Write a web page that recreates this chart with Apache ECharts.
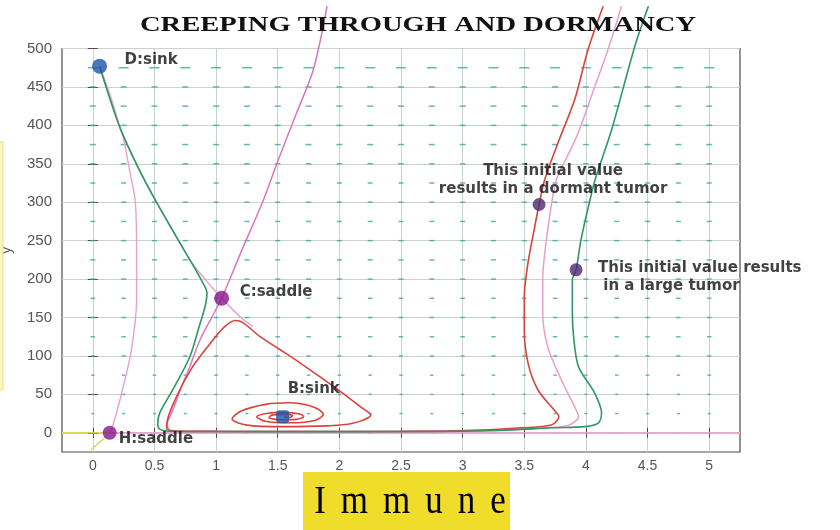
<!DOCTYPE html>
<html>
<head>
<meta charset="utf-8">
<script src="https://cdn.jsdelivr.net/npm/echarts@6/dist/echarts.min.js"></script>
<style>
  html, body { margin: 0; padding: 0; background: #ffffff; }
  #chart { width: 840px; height: 530px; }
</style>
</head>
<body>
<div id="chart"></div>
<script>
// Axis ticks
const xTicks = [0, 0.5, 1, 1.5, 2, 2.5, 3, 3.5, 4, 4.5, 5];
const yTicks = [0, 50, 100, 150, 200, 250, 300, 350, 400, 450, 500];

// Direction field lattice and arrow length per row (horizontal arrows)
const fieldCols = [0, 0.25, 0.5, 0.75, 1, 1.25, 1.5, 1.75, 2, 2.25, 2.5, 2.75, 3, 3.25, 3.5, 3.75, 4, 4.25, 4.5, 4.75, 5];
const fieldRows = [0, 25, 50, 75, 100, 125, 150, 175, 200, 225, 250, 275, 300, 325, 350, 375, 400, 425, 450, 475];
const fieldMagnitude = [2, 3, 3, 3.5, 4, 4.5, 4.5, 4.5, 5, 5, 5, 5, 5, 5, 5.5, 6, 6, 6, 6, 10];

// Trajectories (immune, tumour)
const greenPath = [[0.055,477],[0.218,398],[0.365,346],[0.52,299],[0.787,225],[0.893,195],[0.926,182],[0.91,164],[0.855,134],[0.787,99],[0.649,56],[0.543,26],[0.527,12],[0.54,5],[0.62,2],[1.0,1.6],[1.8,1.5],[2.6,1.6],[3.3,3],[3.72,6.5],[3.99,8],[4.1,12.6],[4.127,25.6],[4.07,52],[3.94,86],[3.9,125],[3.89,156],[3.89,199],[3.92,212],[3.96,251],[4.02,294],[4.074,329],[4.208,394],[4.397,503],[4.507,555]];

const redPath = [[4.14,555],[4.018,499],[3.91,434],[3.78,380],[3.665,329],[3.62,297],[3.58,264],[3.53,221],[3.5,177],[3.5,134],[3.53,91],[3.61,56],[3.74,30],[3.78,21],[3.72,10],[3.47,6.5],[3.07,3],[2.66,1.8],[2.0,1.7],[1.5,1.7],[1.0,1.8],[0.7,2.2],[0.6,5],[0.6,10],[0.667,43],[0.81,86],[0.976,121],[1.07,138],[1.154,146],[1.22,143],[1.357,125],[1.52,108],[1.68,91],[1.955,60],[2.17,34],[2.255,23],[2.1,12],[1.9,9],[1.55,8],[1.25,10],[1.13,18],[1.2,28],[1.4,37],[1.6,39],[1.8,33],[1.87,24],[1.8,16],[1.6,13],[1.4,15],[1.33,21],[1.42,25.5],[1.55,26.5],[1.68,24.5],[1.71,21],[1.65,17.5],[1.52,17],[1.43,19.5],[1.45,23],[1.55,24],[1.62,22.5],[1.6,20],[1.55,20.5]];

const pinkRightPath = [[4.289,555],[4.18,499],[4.06,445],[3.937,390],[3.85,360],[3.76,329],[3.69,264],[3.65,199],[3.65,156],[3.69,112],[3.8,69],[3.92,30],[3.94,21],[3.86,10],[3.64,6],[3.2,3.5],[2.5,2],[1.5,1.8],[0.8,2]];

const pinkSaddlePath = [[0.62,4],[0.6,10],[0.64,26],[0.72,60],[0.787,86],[0.87,121],[0.964,150],[1.045,175],[1.21,238],[1.384,303],[1.497,352],[1.65,415],[1.79,473],[1.9,555]];

const pinkSeparatrix = [[0.055,477],[0.218,398],[0.365,346],[0.52,299],[0.787,225],[0.92,198],[1.045,175],[1.195,151],[1.3,138]];

const pinkLeftPath = [[0.055,477],[0.15,435],[0.218,398],[0.245,386],[0.3,340],[0.345,300],[0.355,234],[0.355,173],[0.313,108],[0.247,60],[0.177,17],[0.137,0]];

const pinkAxisPath = [[0.137,0],[5.25,0]];
const yellowAxisPath = [[-0.25,0],[0.137,0]];
const yellowLowPath = [[0.12,-3],[0.05,-13],[-0.013,-22]];

// Equilibria and initial values
const pointCoords = [[0.055,477],[1.045,175],[0.137,0],[1.54,21],[3.62,297],[3.92,212]];
const pointNames = ['D:sink', 'C:saddle', 'H:saddle', 'B:sink',
  'This initial value\nresults in a dormant tumor',
  'This initial value results\n in a large tumor'];

const chartTitle = 'CREEPING THROUGH AND DORMANCY';
const xName = 'Immune';
const yName = 'y';

// ---- styling ----
const pointStyles = [
  { color: '#1d55a6', size: 15, offset: [25, -6], align: 'left' },
  { color: '#86168a', size: 15, offset: [18, -6], align: 'left' },
  { color: '#86168a', size: 14, offset: [9, 6], align: 'left' },
  { color: '#1d55a6', size: 13, offset: [5, -28], align: 'left', symbol: 'roundRect' },
  { color: '#4a2a72', size: 13, offset: [14, -24], align: 'center' },
  { color: '#4a2a72', size: 13, offset: [22, 7], align: 'left' }
];

const labelFont = { fontFamily: 'DejaVu Sans', fontWeight: 'bold', fontSize: 15, color: '#111111', lineHeight: 18 };

const fieldData = [];
fieldRows.forEach(function (y, r) {
  fieldCols.forEach(function (x) { fieldData.push([x, y, fieldMagnitude[r]]); });
});

function trajectory(name, data, color, width, z) {
  return {
    name: name, type: 'line', data: data, showSymbol: false, smooth: 0.3,
    clip: false, silent: true, z: z,
    lineStyle: { color: color, width: width }
  };
}

const chart = echarts.init(document.getElementById('chart'), null, { renderer: 'canvas' });

const axisCommon = {
  type: 'value', axisLine: { show: false },
  axisTick: { show: true, inside: true, length: 5, lineStyle: { color: '#4a4a4a', width: 1 } }
};

chart.setOption({
  animation: false,
  backgroundColor: '#ffffff',
  grid: {
    left: 62, right: 100, top: 48.5, bottom: 78,
    outerBoundsMode: 'none', containLabel: false,
    show: true, borderColor: '#4d4d4d', borderWidth: 1.2, backgroundColor: 'transparent'
  },
  xAxis: [
    Object.assign({}, axisCommon, {
      min: -0.25, max: 5.25, position: 'bottom',
      axisTick: Object.assign({}, axisCommon.axisTick, { customValues: xTicks }),
      axisLabel: { customValues: xTicks, color: '#555555', fontSize: 14, fontFamily: 'Liberation Sans', margin: 7 },
      splitLine: { show: true, lineStyle: { color: '#c9d2cc', width: 1 } }
    }),
    Object.assign({}, axisCommon, {
      min: -0.25, max: 5.25, position: 'top',
      axisTick: Object.assign({}, axisCommon.axisTick, { customValues: xTicks }),
      axisLabel: { show: false }, splitLine: { show: false }
    })
  ],
  yAxis: [
    Object.assign({}, axisCommon, {
      min: -25, max: 500, position: 'left',
      name: yName, nameLocation: 'middle', nameGap: 48, nameRotate: 90,
      nameTextStyle: { color: '#555555', fontSize: 14, fontFamily: 'Liberation Sans' },
      axisTick: Object.assign({}, axisCommon.axisTick, { customValues: yTicks }),
      axisLabel: { customValues: yTicks, color: '#555555', fontSize: 15, fontFamily: 'Liberation Sans', margin: 10 },
      splitLine: { show: true, lineStyle: { color: '#c9d2cc', width: 1 } }
    }),
    Object.assign({}, axisCommon, {
      min: -25, max: 500, position: 'right',
      axisTick: Object.assign({}, axisCommon.axisTick, { customValues: yTicks }),
      axisLabel: { show: false }, splitLine: { show: false }
    })
  ],
  graphic: [
    { type: 'text', x: 418, y: 26, scaleX: 1.36, z: 10,
      style: { text: chartTitle, font: 'bold 21px "Liberation Serif"', fill: '#111111', textAlign: 'center', textVerticalAlign: 'middle' } },
    { type: 'rect', shape: { x: 303, y: 472, width: 207, height: 60 }, z: 5,
      style: { fill: '#f0dc2a' } },
    { type: 'text', x: 410, y: 503, scaleY: 1.12, z: 6,
      style: {
        text: xName.split('').map(function (c) { return '{l|' + c + '}'; }).join(''),
        textAlign: 'center', textVerticalAlign: 'middle',
        rich: { l: { fontFamily: 'Liberation Serif', fontSize: 35, color: '#3c3c6e', padding: [0, 7.5, 0, 7.5] } }
      } },
    { type: 'rect', shape: { x: -3, y: 142, width: 6, height: 248 }, z: 5,
      style: { fill: '#fbf5c4', stroke: '#efe06c', lineWidth: 1 } }
  ],
  series: [
    {
      name: 'field', type: 'scatter', data: fieldData, silent: true, z: 2,
      symbol: 'rect',
      symbolSize: function (v) { return [v[2], 1.5]; },
      itemStyle: { color: '#3aa8a0' }
    },
    trajectory('yellow axis', yellowAxisPath, '#dcd55a', 1.4, 3),
    trajectory('yellow low', yellowLowPath, '#dcd55a', 1.4, 3),
    trajectory('pink axis', pinkAxisPath, '#eaa3cf', 1.4, 3),
    trajectory('pink left', pinkLeftPath, '#e8a2cd', 1.4, 3),
    trajectory('pink separatrix', pinkSeparatrix, '#e29ccb', 1.3, 3),
    trajectory('pink right', pinkRightPath, '#e99fcc', 1.5, 4),
    trajectory('pink saddle', pinkSaddlePath, '#d976c0', 1.5, 4),
    trajectory('red', redPath, '#d8433c', 1.6, 5),
    trajectory('green', greenPath, '#2f9760', 1.6, 6),
    {
      name: 'points', type: 'scatter', z: 10, silent: true,
      data: pointCoords.map(function (c, i) {
        const s = pointStyles[i];
        return {
          value: c, name: pointNames[i],
          symbol: s.symbol || 'circle', symbolSize: s.size,
          itemStyle: { color: s.color },
          label: Object.assign({
            show: true, position: 'inside', formatter: '{b}',
            align: s.align, verticalAlign: 'middle', offset: s.offset
          }, labelFont)
        };
      })
    }
  ]
});
</script>
</body>
</html>
